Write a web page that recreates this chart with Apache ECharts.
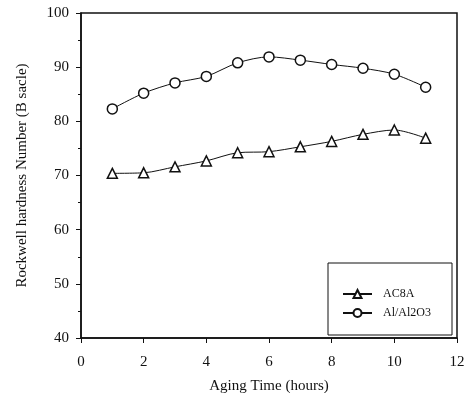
<!DOCTYPE html>
<html><head><meta charset="utf-8">
<script src="https://cdn.jsdelivr.net/npm/echarts@6/dist/echarts.min.js"></script>
<style>html,body{margin:0;padding:0;background:#fff}#c{width:473px;height:393px}</style>
</head><body><div id="c"></div>
<script>
const hours = [1,2,3,4,5,6,7,8,9,10,11];
const ac8a = [70.4,70.5,71.6,72.7,74.2,74.4,75.3,76.3,77.6,78.4,76.9];
const alAl2O3 = [82.3,85.2,87.1,88.3,90.8,91.9,91.3,90.5,89.8,88.7,86.3];
const font = 'Liberation Serif';
const chart = echarts.init(document.getElementById('c'));
chart.setOption({
  animation:false,
  backgroundColor:'#fff',
  textStyle:{fontFamily:font,color:'#111'},
  grid:{left:81,top:13,right:16,bottom:55,outerBoundsMode:'none',containLabel:false,
    show:true,borderColor:'#111',borderWidth:1.5,backgroundColor:'transparent'},
  xAxis:{type:'value',min:0,max:12,interval:2,
    name:'Aging Time (hours)',nameLocation:'middle',nameGap:41,
    nameTextStyle:{fontFamily:font,fontSize:15,color:'#111'},
    axisLine:{lineStyle:{color:'#111',width:1.5}},
    axisTick:{inside:false,length:5,lineStyle:{color:'#111'}},
    axisLabel:{fontFamily:font,fontSize:15,color:'#111',margin:17},
    splitLine:{show:false}},
  yAxis:{type:'value',min:40,max:100,interval:10,
    name:'Rockwell hardness Number (B sacle)',nameLocation:'middle',nameGap:51,
    nameTextStyle:{fontFamily:font,fontSize:15,color:'#111'},
    axisLine:{lineStyle:{color:'#111',width:1.5}},
    axisTick:{length:5,lineStyle:{color:'#111'}},
    minorTick:{show:true,splitNumber:2,length:3,lineStyle:{color:'#111'}},
    axisLabel:{fontFamily:font,fontSize:15,color:'#111',margin:12},
    splitLine:{show:false}},
  legend:{orient:'vertical',left:328,top:263,
    padding:[25,21,16,14],itemGap:7,itemWidth:29,itemHeight:10,
    borderColor:'#111',borderWidth:1,backgroundColor:'#fff',
    textStyle:{fontFamily:font,fontSize:12,color:'#111',padding:[0,0,0,6]},
    data:['AC8A','Al/Al2O3']},
  series:[
    {name:'AC8A',type:'line',data:hours.map((h,i)=>[h,ac8a[i]]),smooth:0.3,
     symbol:'triangle',symbolSize:10,lineStyle:{color:'#111',width:1},
     itemStyle:{color:'#fff',borderColor:'#111',borderWidth:1.5}},
    {name:'Al/Al2O3',type:'line',data:hours.map((h,i)=>[h,alAl2O3[i]]),smooth:0.3,
     symbol:'circle',symbolSize:10,lineStyle:{color:'#111',width:1},
     itemStyle:{color:'#fff',borderColor:'#111',borderWidth:1.5}}
  ]
});
</script></body></html>
